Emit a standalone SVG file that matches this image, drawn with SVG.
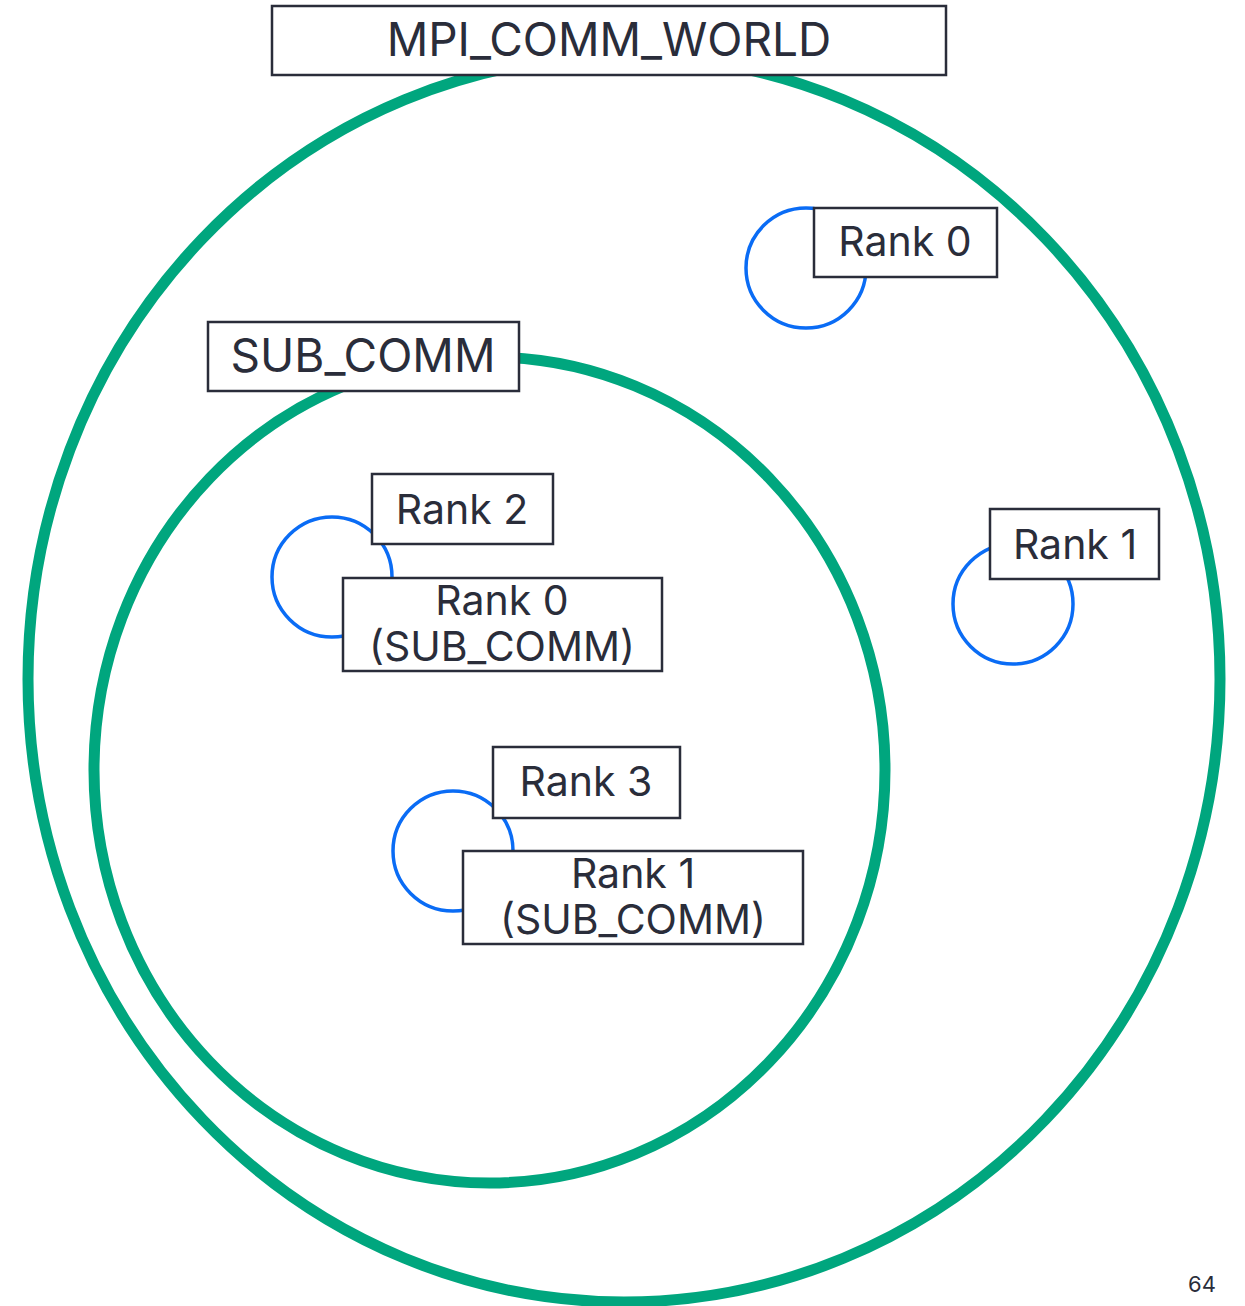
<svg xmlns="http://www.w3.org/2000/svg" width="1245" height="1306" viewBox="0 0 1245 1306">
<style>
.comm{fill:none;stroke:#00a67e;stroke-width:11}
.proc{fill:none;stroke:#0a6cf5;stroke-width:3.5}
.box{fill:#fff;stroke:#2a2d3a;stroke-width:2.5}
.t{font-family:Inter,"Liberation Sans",sans-serif;fill:#2a2d3a;text-anchor:middle}
.big{font-size:46px}
.mid{font-size:41px}
</style>
<rect width="1245" height="1306" fill="#fff"/>
<g id="connectors"/>
<g id="world">
<ellipse class="comm" cx="624" cy="679" rx="596" ry="623"/>
</g>
<g id="sub">
<ellipse class="comm" cx="489.5" cy="770" rx="395.5" ry="413"/>
</g>
<g id="p0">
<circle class="proc" cx="806" cy="268" r="60"/>
<rect class="box" x="814" y="208" width="183" height="69"/>
<text class="t mid" x="905" y="256">Rank 0</text>
</g>
<g id="p1">
<circle class="proc" cx="1013" cy="604" r="60"/>
<rect class="box" x="990" y="509" width="169" height="70"/>
<text class="t mid" x="1075" y="559">Rank 1</text>
</g>
<g id="p2">
<circle class="proc" cx="332" cy="577" r="60"/>
<rect class="box" x="372" y="474" width="181" height="70"/>
<text class="t mid" x="462" y="524">Rank 2</text>
<rect class="box" x="343" y="578" width="319" height="93"/>
<text class="t mid" x="502" y="615">Rank 0</text>
<text class="t mid" x="502" y="661">(SUB_COMM)</text>
</g>
<g id="p3">
<circle class="proc" cx="453" cy="851" r="60"/>
<rect class="box" x="493" y="747" width="187" height="71"/>
<text class="t mid" x="586" y="796">Rank 3</text>
<rect class="box" x="463" y="851" width="340" height="93"/>
<text class="t mid" x="633" y="888">Rank 1</text>
<text class="t mid" x="633" y="934">(SUB_COMM)</text>
</g>
<g id="world-label">
<rect class="box" x="272" y="6" width="674" height="69"/>
<text class="t big" x="609" y="56">MPI_COMM_WORLD</text>
</g>
<g id="sub-label">
<rect class="box" x="208" y="322" width="311" height="69"/>
<text class="t big" x="363" y="372">SUB_COMM</text>
</g>
<text class="t" x="1202" y="1292" style="font-size:22px">64</text>
</svg>
